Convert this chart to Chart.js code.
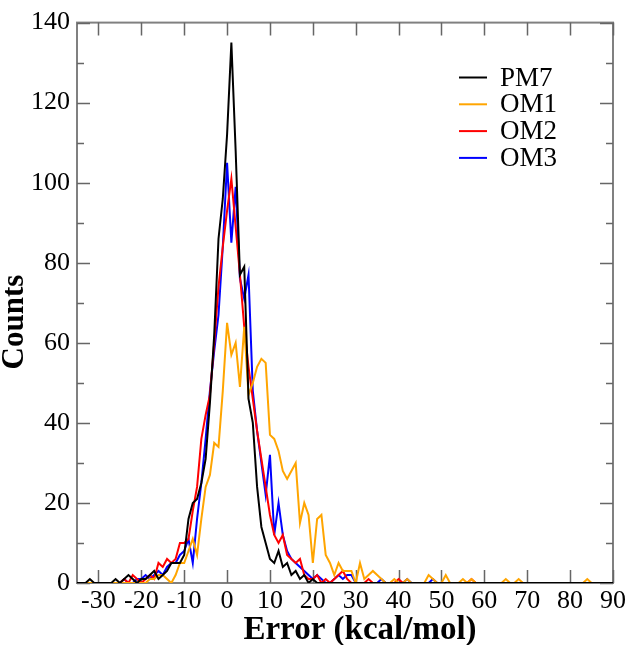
<!DOCTYPE html>
<html><head><meta charset="utf-8">
<script src="https://cdn.jsdelivr.net/npm/chart.js@4/dist/chart.umd.min.js"></script>
<style>html,body{margin:0;padding:0;background:#fff}#wrap{width:629px;height:645px;position:relative}</style>
</head><body><div id="wrap"><canvas id="c" width="629" height="645"></canvas></div>
<script>
const errorBins = [
-35,-34,-33,-32,-31,-30,-29,-28,-27,-26,
-25,-24,-23,-22,-21,-20,-19,-18,-17,-16,
-15,-14,-13,-12,-11,-10,-9,-8,-7,-6,
-5,-4,-3,-2,-1,0,1,2,3,4,
5,6,7,8,9,10,11,12,13,14,
15,16,17,18,19,20,21,22,23,24,
25,26,27,28,29,30,31,32,33,34,
35,36,37,38,39,40,41,42,43,44,
45,46,47,48,49,50,51,52,53,54,
55,56,57,58,59,60,61,62,63,64,
65,66,67,68,69,70,71,72,73,74,
75,76,77,78,79,80,81,82,83,84,
85,86,87,88,89,90];
const pm7 = [
0,0,0,1,0,0,0,0,0,1,
0,1,2,1,0,1,1,2,3,1,
2,3,5,5,5,7,16,20,21,25,
31,45,62,86,96,112,135,108,77,79,
46,40,24,14,10,6,5,8,4,5,
2,3,1,2,0,1,0,0,0,0,
0,0,0,0,0,0,0,0,0,0,
0,0,0,0,0,0,0,0,0,0,
0,0,0,0,0,0,0,0,0,0,
0,0,0,0,0,0,0,0,0,0,
0,0,0,0,0,0,0,0,0,0,
0,0,0,0,0,0,0,0,0,0,
0,0,0,0,0,0];
const om1 = [
0,0,0,0,0,0,0,0,0,0,
0,0,0,0,0,0,0,1,1,2,
2,1,0,2,5,5,8,11,7,16,
24,27,35,34,48,65,57,60,49,64,
47,50,54,56,55,37,36,33,28,26,
28,30,15,20,17,5,16,17,7,5,
2,5,3,3,3,0,5,1,2,3,
2,1,0,0,1,0,0,1,0,0,
0,0,2,1,0,0,2,0,0,0,
1,0,1,0,0,0,0,0,0,0,
1,0,0,1,0,0,0,0,0,0,
0,0,0,0,0,0,0,0,0,1,
0,0,0,0,0,0];
const om2 = [
0,0,0,0,0,0,0,0,0,0,
0,1,0,2,1,0,1,2,1,5,
4,6,5,6,10,10,11,18,24,36,
42,47,60,74,84,93,101,89,77,64,
54,46,38,31,24,17,12,10,12,7,
6,5,6,2,1,1,2,0,1,0,
1,2,3,1,0,0,0,0,1,0,
0,0,0,0,0,1,0,0,0,0,
0,0,0,0,0,0,0,0,0,0,
0,0,1,0,0,0,0,0,0,0,
0,0,0,0,0,0,0,0,0,0,
0,0,0,0,0,0,0,0,0,0,
0,0,0,0,0,0];
const om3 = [
0,0,0,0,0,0,0,0,0,0,
0,1,0,0,1,1,2,1,2,3,
2,4,5,5,7,8,11,5,16,25,
36,48,58,67,84,105,85,99,76,71,
77,48,38,30,22,32,12,20,12,8,
6,5,4,3,2,1,2,1,0,0,
1,2,1,2,2,0,0,0,0,0,
0,1,0,0,0,0,0,1,0,0,
0,0,0,1,0,0,0,0,0,0,
0,0,0,0,0,0,0,0,0,0,
0,0,0,0,0,0,0,0,0,0,
0,0,0,0,0,0,0,0,0,0,
0,0,0,0,0,0];
const seriesNames = ['PM7','OM1','OM2','OM3'];
const seriesColors = ['#000000','#FFA500','#FF0000','#0000FF'];
const xTicks = [-30,-20,-10,0,10,20,30,40,50,60,70,80,90];
const yTicks = [0,10,20,30,40,50,60,70,80,90,100,110,120,130,140];
const xTitle = 'Error (kcal/mol)';
const yTitle = 'Counts';

const SERIF = "'Liberation Serif','Times New Roman',serif";
const allSeries = [pm7, om1, om2, om3];

const framePlugin = {
  id: 'frameTicks',
  beforeDatasetsDraw(chart) {
    const {ctx, chartArea: a, scales: {x, y}} = chart;
    ctx.save();
    ctx.strokeStyle = '#808080';
    ctx.lineWidth = 2;
    ctx.strokeRect(a.left, a.top, a.right - a.left, a.bottom - a.top);
    ctx.lineWidth = 1.5;
    ctx.strokeStyle = '#666';
    ctx.beginPath();
    xTicks.forEach(v => {
      const px = Math.round(x.getPixelForValue(v)) + 0.5;
      ctx.moveTo(px, a.bottom); ctx.lineTo(px, a.bottom - 13);
      ctx.moveTo(px, a.top); ctx.lineTo(px, a.top + 13);
    });
    yTicks.forEach(v => {
      const py = Math.round(y.getPixelForValue(v)) + 0.5;
      const len = v % 20 === 0 ? 13 : 7;
      ctx.moveTo(a.left, py); ctx.lineTo(a.left + len, py);
      ctx.moveTo(a.right, py); ctx.lineTo(a.right - len, py);
    });
    ctx.stroke();
    ctx.restore();
  },
  afterDraw(chart) {
    const {ctx} = chart;
    ctx.save();
    ctx.fillStyle = '#000';
    ctx.textAlign = 'center';
    ctx.textBaseline = 'middle';
    ctx.font = "bold 33px " + SERIF;
    ctx.fillText(xTitle, 360, 630);
    ctx.translate(15, 322);
    ctx.rotate(-Math.PI / 2);
    ctx.font = "bold 31px " + SERIF;
    ctx.fillText(yTitle, 0, 0);
    ctx.restore();
    ctx.save();
    chart.data.datasets.forEach((ds, i) => {
      const yy = 77.5 + i * 26.8;
      ctx.strokeStyle = ds.borderColor;
      ctx.lineWidth = 2;
      ctx.beginPath();
      ctx.moveTo(459, yy); ctx.lineTo(487, yy);
      ctx.stroke();
      ctx.fillStyle = '#000';
      ctx.font = "27px " + SERIF;
      ctx.textAlign = 'left';
      ctx.textBaseline = 'middle';
      ctx.fillText(ds.label, 500, yy + 1);
    });
    ctx.restore();
  }
};

new Chart(document.getElementById('c'), {
  type: 'line',
  data: {
    datasets: allSeries.map((s, i) => ({
      label: seriesNames[i],
      data: errorBins.map((xv, j) => ({x: xv, y: s[j]})),
      borderColor: seriesColors[i],
      backgroundColor: seriesColors[i],
      borderWidth: 2,
      pointRadius: 0,
      tension: 0,
      fill: false
    }))
  },
  options: {
    responsive: false,
    animation: false,
    devicePixelRatio: 1,
    layout: {padding: {top: 10, right: 16, left: 0, bottom: 0}},
    plugins: {legend: {display: false}, tooltip: {enabled: false}},
    scales: {
      x: {
        type: 'linear', min: -35, max: 90,
        afterBuildTicks: s => { s.ticks = xTicks.map(v => ({value: v})); },
        afterFit: s => { s.height = 62; },
        grid: {display: false, drawTicks: false},
        border: {display: false},
        ticks: {font: {family: SERIF, size: 26}, color: '#000', padding: 3, maxRotation: 0, autoSkip: false},
        title: {display: false, text: xTitle}
      },
      y: {
        type: 'linear', min: 0, max: 140,
        afterBuildTicks: s => { s.ticks = yTicks.map(v => ({value: v})); },
        afterFit: s => { s.width = 77; },
        grid: {display: false, drawTicks: false},
        border: {display: false},
        ticks: {font: {family: SERIF, size: 26}, color: '#000', padding: 7, autoSkip: false,
                callback: v => (v % 20 === 0 ? String(v) : '')},
        title: {display: false, text: yTitle}
      }
    }
  },
  plugins: [framePlugin]
});
</script></body></html>
